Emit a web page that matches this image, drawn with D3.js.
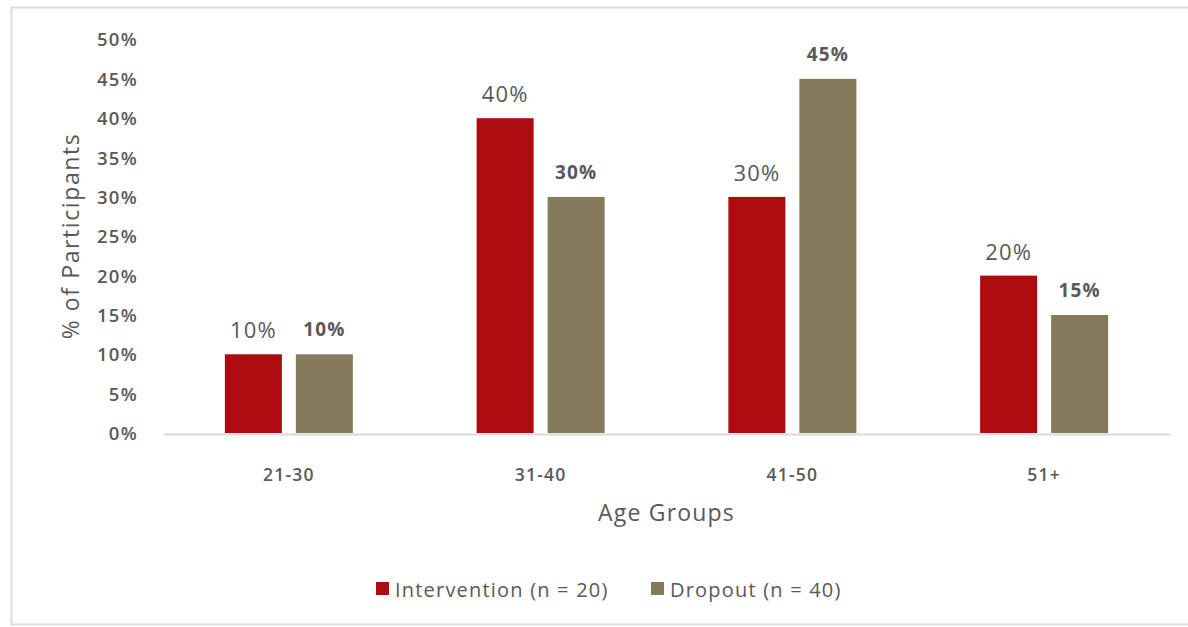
<!DOCTYPE html>
<html>
<head>
<meta charset="utf-8">
<script src="https://cdn.jsdelivr.net/npm/d3@7"></script>
<style>
  html, body { margin: 0; padding: 0; background: #fff; }
  svg { display: block; font-family: "Open Sans", Lato, sans-serif; }
</style>
</head>
<body>
<svg id="chart" width="1188" height="627"></svg>
<script>
// Age groups and share of participants per group (%)
const categories = ["21-30", "31-40", "41-50", "51+"];
const interventionValues = [10, 40, 30, 20];
const dropoutValues = [10, 30, 45, 15];
const seriesNames = ["Intervention (n = 20)", "Dropout (n = 40)"];
const yTicks = [0, 5, 10, 15, 20, 25, 30, 35, 40, 45, 50];

const colors = ["#ad0b10", "#857b5b"];
const textColor = "#595959";

const svg = d3.select("#chart");

// Outer frame
svg.append("path")
  .attr("d", "M1188,7.5 H11.5 V624.5 H1188")
  .attr("fill", "none")
  .attr("stroke", "#dcdcdc")
  .attr("stroke-width", 2);

const plot = { left: 163, right: 1170, top: 39.5, bottom: 433 };

const x = d3.scaleBand()
  .domain(categories)
  .range([plot.left, plot.right])
  .paddingInner(0)
  .paddingOuter(0);

const groupWidth = 128;
const xInner = d3.scaleBand()
  .domain([0, 1])
  .range([0, groupWidth])
  .paddingInner(0.197);

const y = d3.scaleLinear().domain([0, 50]).range([plot.bottom, plot.top]);

// Y axis tick labels
const yAxis = d3.axisLeft(y)
  .tickValues(yTicks)
  .tickFormat(d => d + "%")
  .tickSize(0)
  .tickPadding(0);
const yg = svg.append("g")
  .attr("transform", `translate(138,0)`)
  .call(yAxis);
yg.select(".domain").remove();
yg.selectAll("text")
  .attr("fill", textColor)
  .attr("font-family", "'Open Sans', sans-serif")
  .attr("font-size", 18.5)
  .attr("font-weight", 600)
  .attr("letter-spacing", "1.3px")
  .attr("dy", "0.35em");

// Bars
const series = [interventionValues, dropoutValues];
series.forEach((vals, si) => {
  const g = svg.append("g");
  g.selectAll("rect")
    .data(categories)
    .join("rect")
    .attr("x", d => x(d) + (x.bandwidth() - groupWidth) / 2 + xInner(si))
    .attr("width", xInner.bandwidth())
    .attr("y", (d, i) => y(vals[i]))
    .attr("height", (d, i) => y(0) - y(vals[i]))
    .attr("fill", colors[si]);

  // Value labels
  g.selectAll("text")
    .data(categories)
    .join("text")
    .attr("x", d => x(d) + (x.bandwidth() - groupWidth) / 2 + xInner(si) + xInner.bandwidth() / 2)
    .attr("y", (d, i) => y(vals[i]) - (si === 0 ? 16 : 18))
    .attr("text-anchor", "middle")
    .attr("fill", textColor)
    .attr("font-size", si === 0 ? 22 : 19)
    .attr("font-weight", si === 0 ? 400 : 700)
    .attr("letter-spacing", "1.2px")
    .text((d, i) => vals[i] + "%");
});

// X axis baseline and labels
const xAxis = d3.axisBottom(x).tickSize(0).tickPadding(0);
const xg = svg.append("g")
  .attr("transform", `translate(0,${plot.bottom + 1})`)
  .call(xAxis);
xg.select(".domain")
  .attr("stroke", "#d9d9d9")
  .attr("stroke-width", 2);
xg.selectAll("text")
  .attr("fill", textColor)
  .attr("font-family", "'Open Sans', sans-serif")
  .attr("font-size", 17.5)
  .attr("font-weight", 600)
  .attr("letter-spacing", "1.2px")
  .attr("dy", 0)
  .attr("y", 47);

// Axis titles
svg.append("text")
  .attr("x", (plot.left + plot.right) / 2)
  .attr("y", 521)
  .attr("text-anchor", "middle")
  .attr("fill", textColor)
  .attr("font-size", 23)
  .attr("letter-spacing", "1.2px")
  .text("Age Groups");

svg.append("text")
  .attr("transform", "translate(79,236) rotate(-90)")
  .attr("text-anchor", "middle")
  .attr("fill", textColor)
  .attr("font-size", 23)
  .attr("letter-spacing", "1.6px")
  .text("% of Participants");

// Legend
const legendX = [376, 651];
const legend = svg.append("g");
seriesNames.forEach((name, i) => {
  legend.append("rect")
    .attr("x", legendX[i])
    .attr("y", 582)
    .attr("width", 13)
    .attr("height", 13)
    .attr("fill", colors[i]);
  legend.append("text")
    .attr("x", legendX[i] + 19)
    .attr("y", 597)
    .attr("fill", textColor)
    .attr("font-size", 20)
    .attr("letter-spacing", "1.2px")
    .text(name);
});
</script>
</body>
</html>
